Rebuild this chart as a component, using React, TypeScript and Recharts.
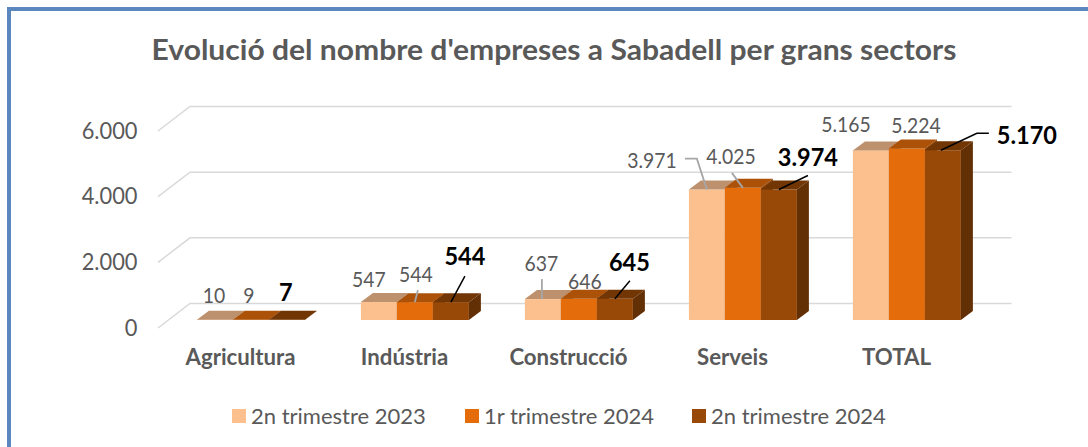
import { Bar, BarChart, CartesianGrid, LabelList, Legend, XAxis, YAxis } from 'recharts';

const categories = ['Agricultura', 'Indústria', 'Construcció', 'Serveis', 'TOTAL'];
const trim2n2023 = [10, 547, 637, 3971, 5165];
const trim1r2024 = [9, 544, 646, 4025, 5224];
const trim2n2024 = [7, 544, 645, 3974, 5170];
const yTicks = [0, 2000, 4000, 6000];

const chartData = categories.map((name, i) => ({
  name,
  a: trim2n2023[i],
  b: trim1r2024[i],
  c: trim2n2024[i],
}));

// manual placement of data labels, relative to the middle of each bar's top edge
const labelOffsets = {
  a: [[-1, -25], [-10, -23], [-1.5, -36], [-55, -30], [-25, -27]],
  b: [[-2, -25], [1, -29], [6, -18], [-12, -32], [9, -24]],
  c: [[-1, -28], [14, -46], [14.5, -37], [29, -33], [84, -15]],
};

// leader lines, same reference point
const leaders = {
  a: { 2: [[-1, -20], [-1, 0]], 3: [[-22, -31], [-10, -31], [0, 0]] },
  b: { 1: [[3, -12], [0, 0]], 3: [[-11, -15], [0, 0]] },
  c: {
    1: [[14, -26], [0, 0]],
    2: [[15, -18], [0, 0]],
    3: [[29, -14], [0, 0]],
    4: [[46, -17], [34, -17], [-2, 0]],
  },
};

const GREY = '#595959';
const DEPTH_X = 12;
const DEPTH_Y = 9;
const WALL_BACK_X = 32;
const FONT = 'Lato, sans-serif';

const fmt = (n: number) => String(n).replace(/\B(?=(\d{3})+$)/g, '.');

const Txt = ({ x, y, sx = 0.9, anchor = 'middle', ...rest }: any) => (
  <text
    transform={`translate(${x} ${y}) scale(${sx} 1)`}
    textAnchor={anchor}
    dominantBaseline="central"
    fontFamily={FONT}
    {...rest}
  />
);

const Box3D = ({ x, y, width, height, fill, top, side }: any) => (
  <g>
    <rect x={x} y={y} width={width} height={Math.max(height, 0)} fill={fill} />
    <polygon
      points={`${x},${y} ${x + DEPTH_X},${y - DEPTH_Y} ${x + width + DEPTH_X},${y - DEPTH_Y} ${x + width},${y}`}
      fill={top}
    />
    <polygon
      points={`${x + width},${y} ${x + width + DEPTH_X},${y - DEPTH_Y} ${x + width + DEPTH_X},${y + height - DEPTH_Y} ${x + width},${y + height}`}
      fill={side}
    />
  </g>
);

const makeLabel = (key: 'a' | 'b' | 'c', bold: boolean) => (props: any) => {
  const { x, y, width, value, index } = props;
  const cx = x + width / 2;
  const [dx, dy] = labelOffsets[key][index];
  const line = (leaders[key] as any)[index];
  return (
    <g>
      {line && (
        <polyline
          points={line.map(([px, py]: number[]) => `${cx + px},${y + py}`).join(' ')}
          fill="none"
          stroke={bold ? '#000000' : '#A6A6A6'}
          strokeWidth={bold ? 1.5 : 1.8}
        />
      )}
      <Txt
        x={cx + dx}
        y={y + dy}
        fontSize={bold ? 24 : 21.5}
        fontWeight={bold ? 700 : 400}
        fill={bold ? '#000000' : GREY}
        sx={bold ? 0.98 : 0.9}
      >
        {fmt(value)}
      </Txt>
    </g>
  );
};

const WallLine = ({ x1, x2, y1 }: any) => (
  <g stroke="#D9D9D9" strokeWidth={1.5} fill="none">
    <polyline
      points={`${x1 - 11.5},${y1 + 8} ${x1 + WALL_BACK_X - 11.5},${y1 - 16.5} ${x2 + 22},${y1 - 16.5}`}
    />
  </g>
);

const YTick = ({ x, y, payload }: any) => (
  <Txt x={x} y={y + 7} anchor="end" fontSize={23.5} fill={GREY} sx={0.93}>
    {fmt(payload.value)}
  </Txt>
);

const XTick = ({ x, y, payload }: any) => (
  <Txt x={x - 11} y={y + 29} fontSize={22} fontWeight={700} fill={GREY} sx={1.01}>
    {payload.value}
  </Txt>
);

const legendLeft = [232, 465, 692];

const LegendRow = ({ payload }: any) => (
  <div style={{ position: 'relative', height: 30, fontFamily: FONT, fontSize: 22, color: GREY }}>
    {payload.map((item: any, i: number) => (
      <div key={item.value} style={{ position: 'absolute', left: legendLeft[i], top: 0, whiteSpace: 'nowrap' }}>
        <span style={{ position: 'absolute', left: 0, top: 8, width: 14, height: 14, background: item.color }} />
        <span style={{ position: 'absolute', left: 19, top: 1 }}>{item.value}</span>
      </div>
    ))}
  </div>
);

export default function App() {
  return (
    <div style={{ position: 'absolute', left: 0, top: 0, width: 1088, height: 447, background: '#fff', overflow: 'hidden' }}>
      <div
        style={{
          position: 'absolute',
          left: 7,
          top: 7,
          right: 0,
          bottom: 0,
          borderLeft: '4px solid #5B87BF',
          borderTop: '4px solid #5B87BF',
        }}
      />
      <BarChart
        width={1088}
        height={447}
        data={chartData}
        margin={{ top: 123, right: 98.5, bottom: 67, left: 29.5 }}
        barCategoryGap="16.7%"
        barGap={0}
        style={{ position: 'absolute', left: 0, top: 0 }}
      >
        <text x={554} y={49} textAnchor="middle" dominantBaseline="central" fontFamily={FONT} fontSize={28} fontWeight={700} fill={GREY} textLength={805} lengthAdjust="spacingAndGlyphs">
          Evolució del nombre d'empreses a Sabadell per grans sectors
        </text>
        <CartesianGrid vertical={false} horizontal={(p: any) => <WallLine key={p.y1} {...p} />} />
        <XAxis dataKey="name" axisLine={false} tickLine={false} height={60} interval={0} tick={<XTick />} />
        <YAxis width={140} domain={[0, 6000]} ticks={yTicks} axisLine={false} tickLine={false} tick={<YTick />} tickMargin={26} />
        <Legend
          layout="horizontal"
          align="center"
          verticalAlign="middle"
          itemSorter={null}
          content={<LegendRow />}
          wrapperStyle={{ left: 0, top: 401, width: 1088, height: 30 }}
        />
        <Bar
          dataKey="a"
          name="2n trimestre 2023"
          fill="#FBC08E"
          isAnimationActive={false}
          shape={(p: any) => <Box3D {...p} top="#BE916E" side="#A87C58" />}
        >
          <LabelList content={makeLabel('a', false)} />
        </Bar>
        <Bar
          dataKey="b"
          name="1r trimestre 2024"
          fill="#E46C0A"
          isAnimationActive={false}
          shape={(p: any) => <Box3D {...p} top="#AB5208" side="#8F4507" />}
        >
          <LabelList content={makeLabel('b', false)} />
        </Bar>
        <Bar
          dataKey="c"
          name="2n trimestre 2024"
          fill="#984807"
          isAnimationActive={false}
          shape={(p: any) => <Box3D {...p} top="#723605" side="#632F04" />}
        >
          <LabelList content={makeLabel('c', true)} />
        </Bar>
      </BarChart>
    </div>
  );
}
